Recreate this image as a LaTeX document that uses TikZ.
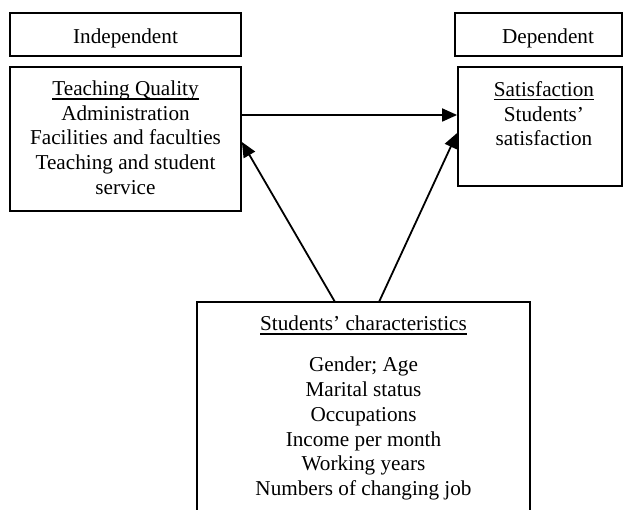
\documentclass[tikz,border=0pt]{standalone}
\usepackage{fontspec}
\setmainfont{Liberation Serif}
\usetikzlibrary{arrows.meta}
\newsavebox\myulbox
\newcommand\myul[1]{\sbox\myulbox{#1}\rlap{\rule[-3.9pt]{\wd\myulbox}{1.2pt}}\usebox\myulbox}
\newcommand\mylines[1]{\begin{tabular}[t]{@{}c@{}}#1\end{tabular}}
\begin{document}
\begin{tikzpicture}[x=1pt,y=-1pt,
  box/.style={draw,line width=1.8pt,rectangle,inner sep=0pt},
  txt/.style={inner sep=0pt,anchor=base,font=\fontsize{21.2}{24.6}\selectfont},
  arr/.style={line width=1.8pt,-{Triangle[length=15pt,width=13pt]}}]
\useasboundingbox (0,0) rectangle (624,510);
% boxes
\node[box,minimum width=231pt,minimum height=43pt] (ind) at (125.5,34.5) {};
\node[box,minimum width=231pt,minimum height=144pt] (tq) at (125.5,139) {};
\node[box,minimum width=167pt,minimum height=43pt] (dep) at (538.5,34.5) {};
\node[box,minimum width=164pt,minimum height=119pt] (sat) at (540,126.5) {};
\node[box,minimum width=333pt,minimum height=220pt] (stu) at (363.5,412) {};
% texts
\node[txt] (indt) at (125.5,43.3) {Independent};
\node[txt] (dept) at (548,43.3) {Dependent};
\node[txt] (tqt) at (125.5,95.7) {\mylines{\myul{Teaching Quality}\\Administration\\Facilities and faculties\\Teaching and student\\service}};
\node[txt] (satt) at (544,96.5) {\mylines{\myul{Satisfaction}\\Students’\\satisfaction}};
\node[txt] (stuh) at (363.5,330.7) {\myul{Students’ characteristics}};
\node[txt,font=\fontsize{21.2}{24.8}\selectfont] (stul) at (363.5,371.7) {\mylines{Gender; Age\\Marital status\\Occupations\\Income per month\\Working years\\Numbers of changing job}};
% connectors
\coordinate (h1) at (tq.east |- 0,115);
\coordinate (h2) at (sat.west |- 0,115);
\coordinate (d1s) at (335,302);
\coordinate (d1e) at (tq.east |- 0,142);
\coordinate (d2s) at (379,302);
\coordinate (d2e) at (sat.west |- 0,133);
\draw[arr] (h1) -- (h2);
\draw[arr] (d1s) -- (d1e);
\draw[arr] (d2s) -- (d2e);
\end{tikzpicture}
\end{document}
